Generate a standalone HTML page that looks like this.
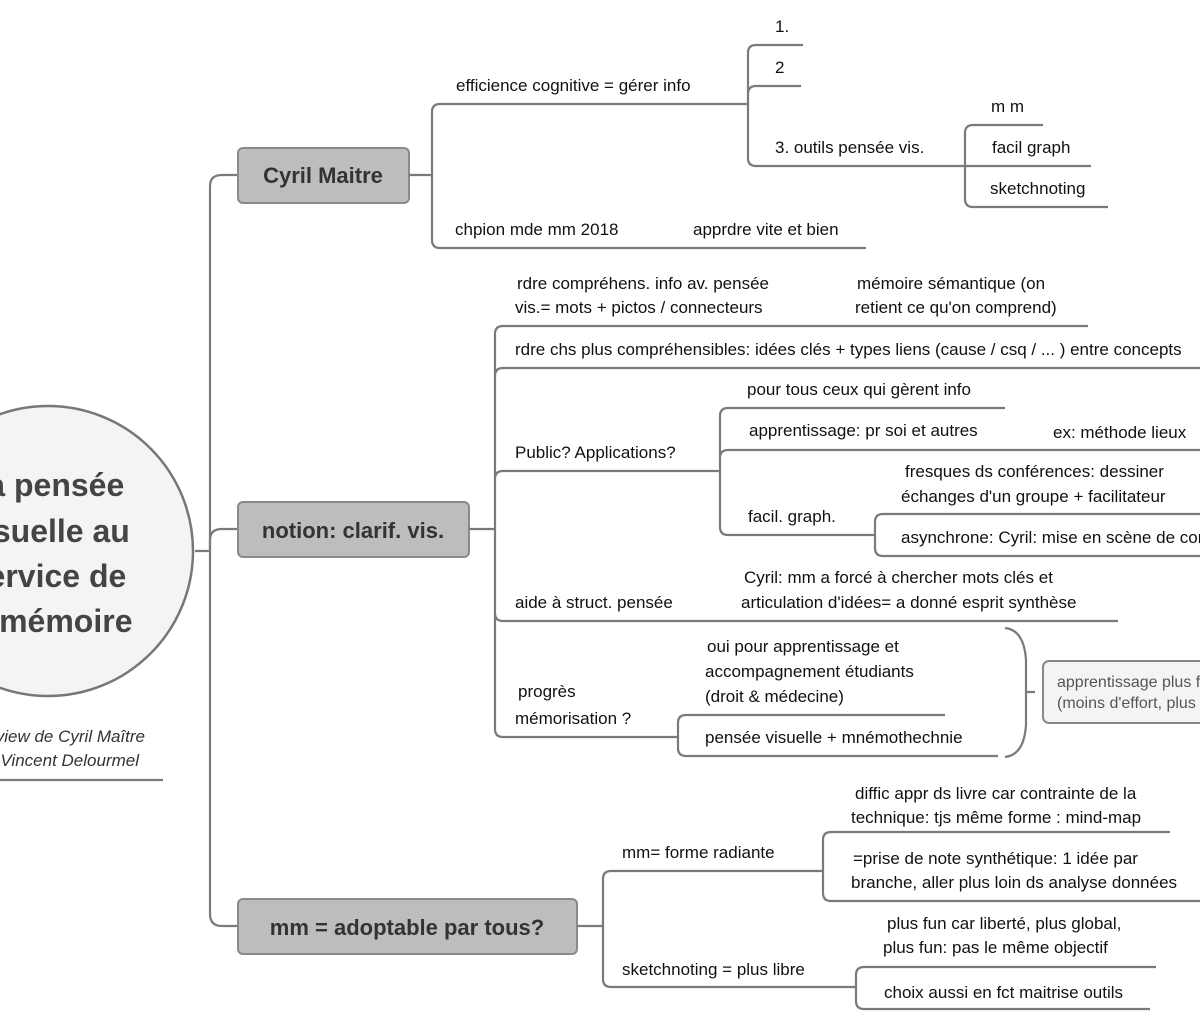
<!DOCTYPE html>
<html><head><meta charset="utf-8"><style>
html,body{margin:0;padding:0;background:#fff;}
svg{display:block;}
text{font-family:"Liberation Sans",sans-serif;font-size:17px;fill:#111;}
.b{font-weight:bold;font-size:22px;fill:#333;}
.c{font-weight:bold;font-size:32px;fill:#444;}
.i{font-style:italic;fill:#333;}
path,line{stroke:#7a7a7a;stroke-width:2.2;fill:none;}
</style></head><body>
<svg width="1200" height="1027" viewBox="0 0 1200 1027">
<circle cx="48" cy="551" r="145" fill="#f3f4f4" stroke="#777" stroke-width="2.5"/>
<text class="c" x="46" y="496" text-anchor="middle">La pensée</text>
<text class="c" x="48" y="542" text-anchor="middle">visuelle au</text>
<text class="c" x="48" y="587" text-anchor="middle">service de</text>
<text class="c" x="48" y="632" text-anchor="middle">la mémoire</text>
<text class="i" x="145" y="742" text-anchor="end">Interview de Cyril Maître</text>
<text class="i" x="139" y="766" text-anchor="end">par Vincent Delourmel</text>
<line x1="0" y1="780" x2="163" y2="780"/>

<path d="M195,551 H210 M210,551 V186 Q210,175 222,175 H238"/>
<path d="M210,551 V540 Q210,529 222,529 H238"/>
<path d="M210,551 V914 Q210,926 222,926 H238"/>

<rect x="238" y="148" width="171" height="55" rx="5" fill="#bdbdbd" stroke="#8a8a8a" stroke-width="2"/>
<text class="b" x="323" y="183" text-anchor="middle">Cyril Maitre</text>
<rect x="238" y="502" width="231" height="55" rx="5" fill="#bdbdbd" stroke="#8a8a8a" stroke-width="2"/>
<text class="b" x="353" y="538" text-anchor="middle">notion: clarif. vis.</text>
<rect x="238" y="899" width="339" height="55" rx="5" fill="#bdbdbd" stroke="#8a8a8a" stroke-width="2"/>
<text class="b" x="407" y="935" text-anchor="middle">mm = adoptable par tous?</text>

<path d="M409,175 H432 M432,175 V112 Q432,104 440,104 H748 M432,175 V240 Q432,248 440,248 H866"/>
<text x="456" y="91">efficience cognitive = gérer info</text>
<text x="455" y="235">chpion mde mm 2018</text>
<text x="693" y="235">apprdre vite et bien</text>
<path d="M748,104 V53 Q748,45 756,45 H803 M748,104 V94 Q748,86 756,86 H801 M748,104 V158 Q748,166 756,166 H965"/>
<text x="775" y="32">1.</text>
<text x="775" y="73">2</text>
<text x="775" y="153">3. outils pensée vis.</text>
<path d="M965,166 V133 Q965,125 973,125 H1043 M965,166 H1091 M965,166 V199 Q965,207 973,207 H1108"/>
<text x="991" y="112">m m</text>
<text x="992" y="153">facil graph</text>
<text x="990" y="194">sketchnoting</text>

<path d="M469,529 H495 M495,529 V334 Q495,326 503,326 H1088 M495,529 V376 Q495,368 503,368 H1200 M495,529 V479 Q495,471 503,471 H720 M495,529 V613 Q495,621 503,621 H1118 M495,529 V729 Q495,737 503,737 H678"/>
<text x="517" y="289">rdre compréhens. info av.  pensée</text>
<text x="515" y="313">vis.= mots + pictos / connecteurs</text>
<text x="857" y="289">mémoire sémantique (on</text>
<text x="855" y="313">retient ce qu'on comprend)</text>
<text x="515" y="355">rdre chs plus compréhensibles: idées clés + types liens (cause / csq / ... ) entre concepts</text>
<text x="515" y="458">Public? Applications?</text>
<path d="M720,471 V416 Q720,408 728,408 H1005 M720,471 V458 Q720,450 728,450 H1200 M720,471 V527 Q720,535 728,535 H875"/>
<text x="747" y="395">pour tous ceux qui gèrent info</text>
<text x="749" y="436">apprentissage: pr soi et autres</text>
<text x="1053" y="438">ex: méthode lieux</text>
<text x="748" y="522">facil. graph.</text>
<path d="M875,535 V522 Q875,514 883,514 H1200 M875,535 V548 Q875,556 883,556 H1200"/>
<text x="905" y="477">fresques ds conférences: dessiner</text>
<text x="901" y="502">échanges d'un groupe + facilitateur</text>
<text x="901" y="543">asynchrone: Cyril: mise en scène de contenu</text>
<text x="515" y="608">aide à struct. pensée</text>
<text x="744" y="583">Cyril: mm a forcé à chercher mots clés et</text>
<text x="741" y="608">articulation d'idées= a donné esprit synthèse</text>
<text x="518" y="697">progrès</text>
<text x="515" y="724">mémorisation  ?</text>
<path d="M678,737 V723 Q678,715 686,715 H945 M678,737 V748 Q678,756 686,756 H998"/>
<text x="707" y="652">oui pour apprentissage et</text>
<text x="705" y="677">accompagnement étudiants</text>
<text x="705" y="702">(droit &amp; médecine)</text>
<text x="705" y="743">pensée visuelle + mnémothechnie</text>
<path d="M1005,628 Q1024,630 1026,660 V692 H1035 M1026,692 V725 Q1024,755 1005,757"/>
<rect x="1043" y="661" width="170" height="62" rx="6" fill="#f3f4f4" stroke="#888" stroke-width="2"/>
<text x="1057" y="687" style="fill:#555;font-size:16px">apprentissage plus facile</text>
<text x="1057" y="708" style="fill:#555;font-size:16px">(moins d'effort, plus</text>

<path d="M577,926 H603 M603,926 V879 Q603,871 611,871 H823 M603,926 V979 Q603,987 611,987 H856"/>
<text x="622" y="858">mm= forme radiante</text>
<text x="622" y="975">sketchnoting = plus libre</text>
<path d="M823,871 V840 Q823,832 831,832 H1170 M823,871 V893 Q823,901 831,901 H1200"/>
<text x="855" y="799">diffic appr ds livre car contrainte de la</text>
<text x="851" y="823">technique: tjs même forme :  mind-map</text>
<text x="853" y="864">=prise de note synthétique: 1 idée par</text>
<text x="851" y="888">branche, aller plus loin ds analyse données</text>
<path d="M856,987 V975 Q856,967 864,967 H1156 M856,987 V1001 Q856,1009 864,1009 H1150"/>
<text x="887" y="929">plus fun car liberté, plus global,</text>
<text x="883" y="953">plus fun: pas le même objectif</text>
<text x="884" y="998">choix aussi en fct maitrise outils</text>
</svg>
</body></html>
